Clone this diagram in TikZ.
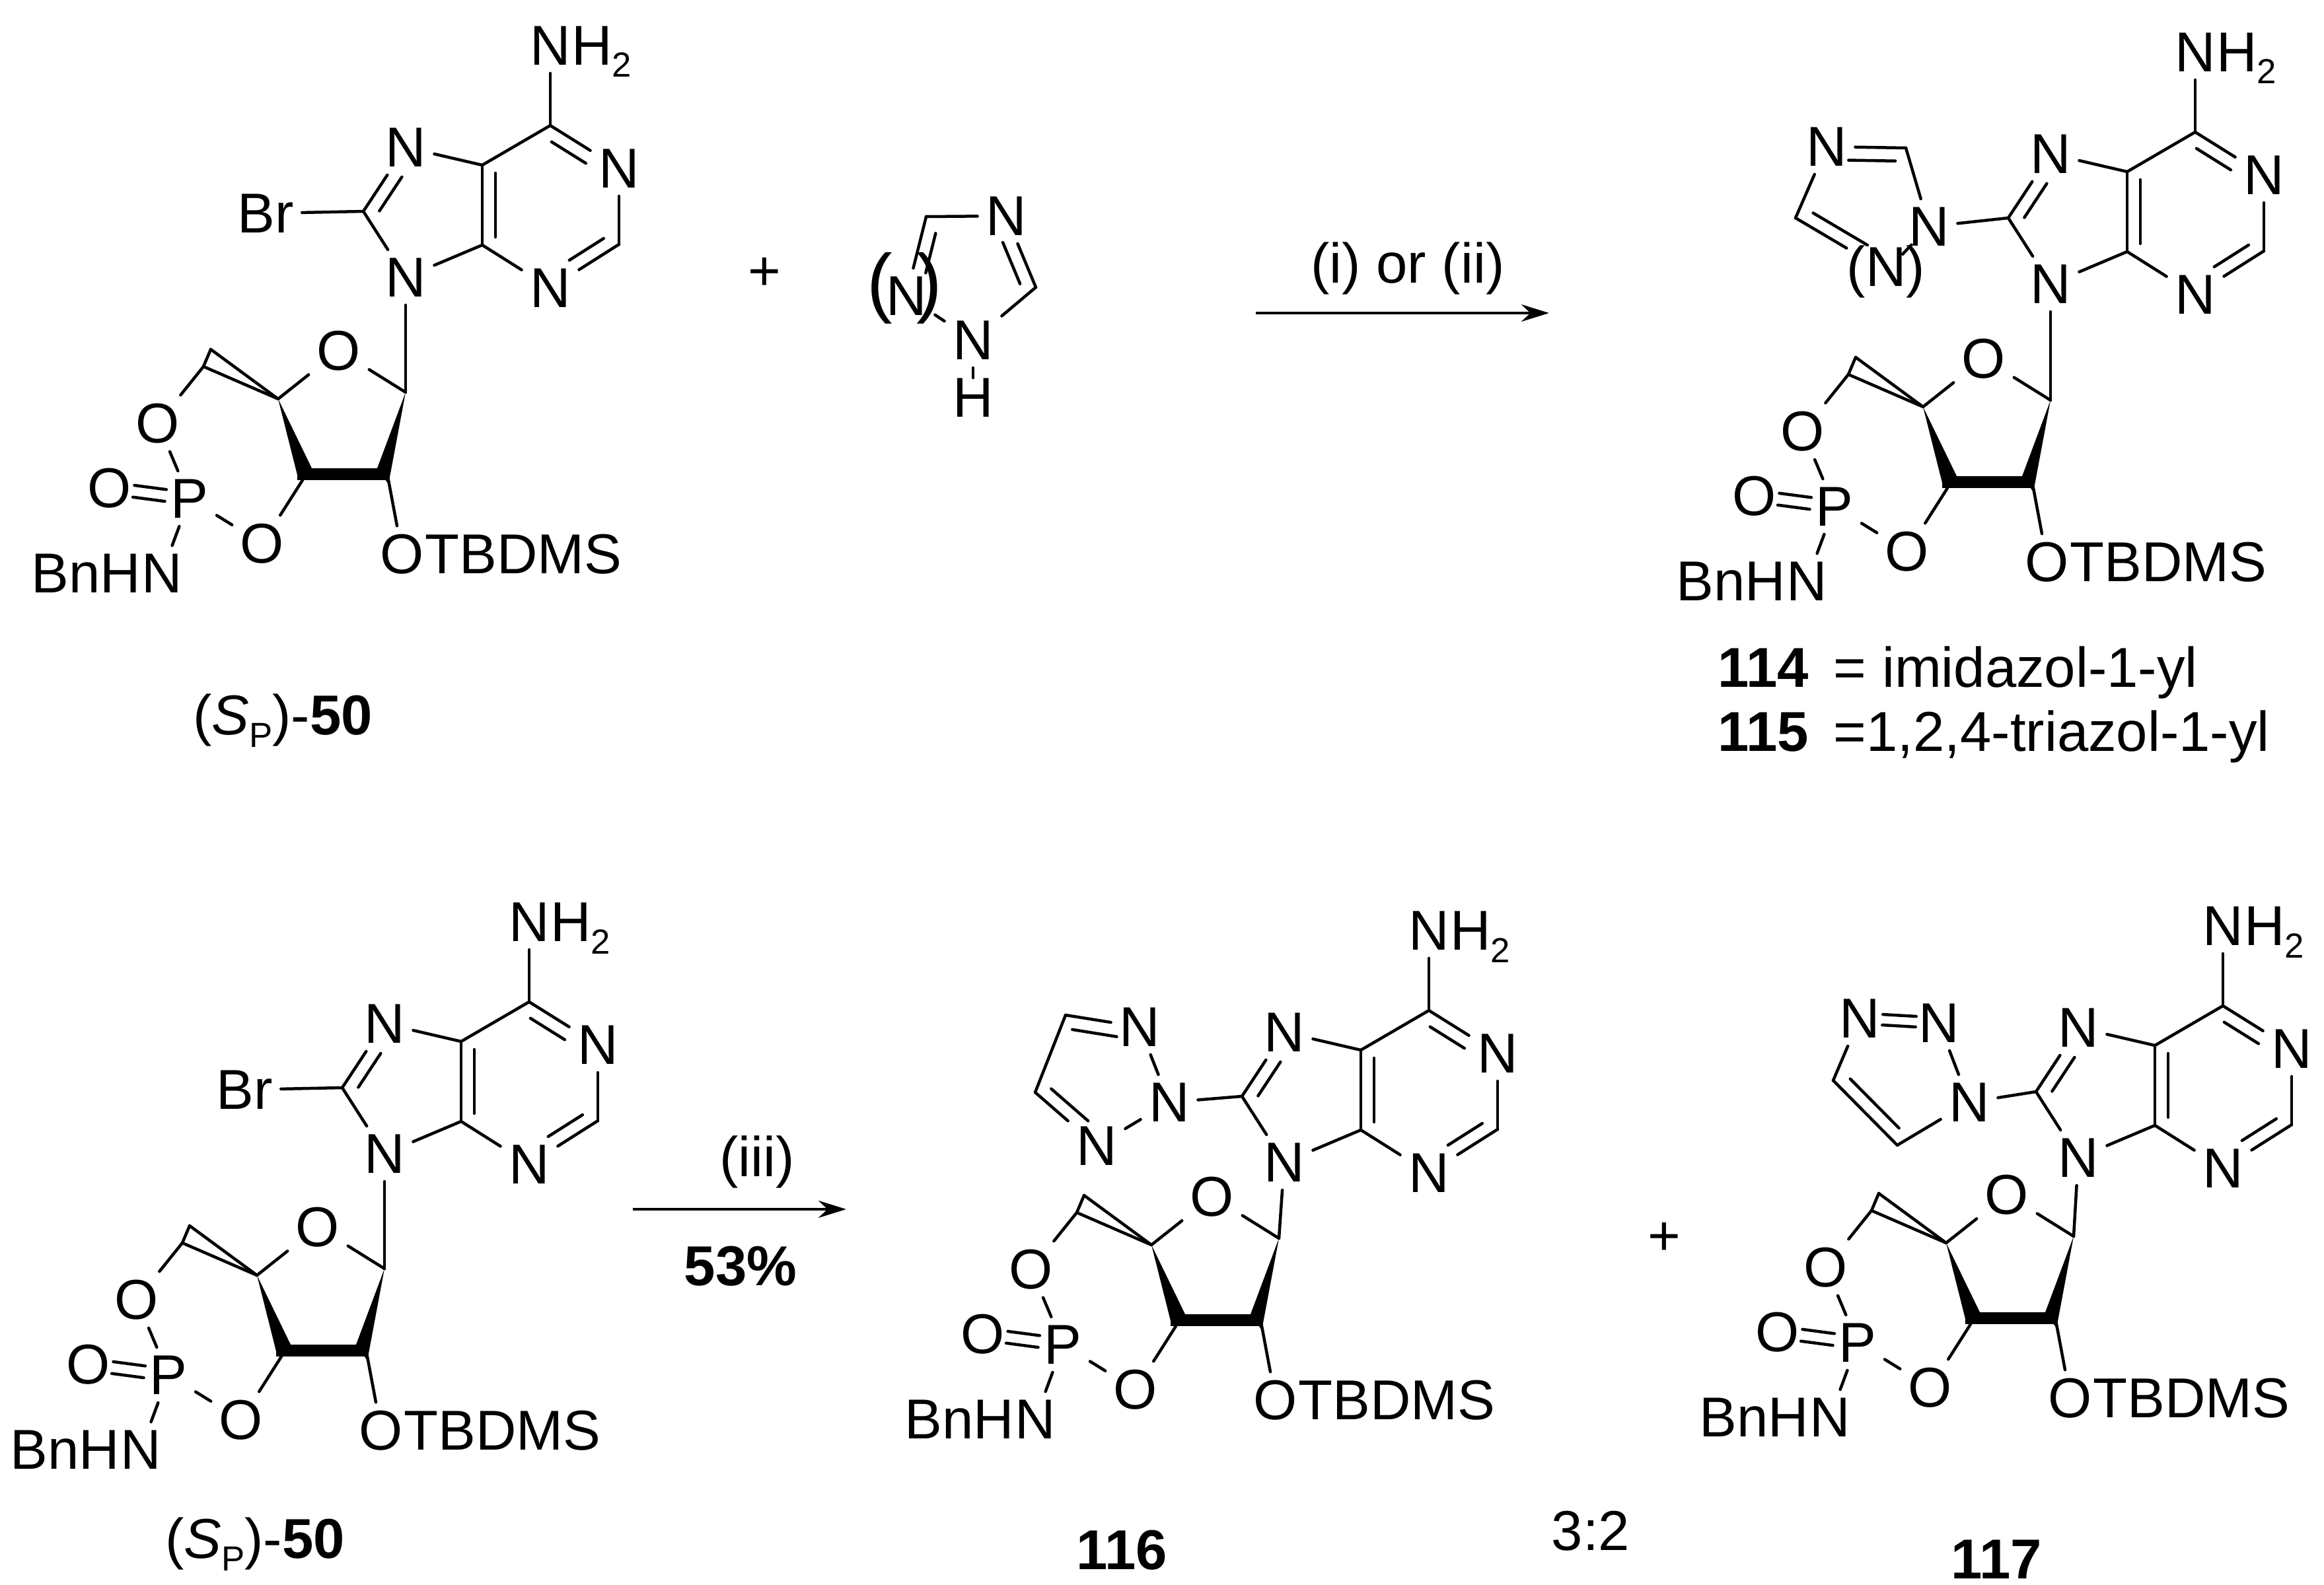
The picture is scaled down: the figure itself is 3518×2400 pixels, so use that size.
\documentclass[tikz,border=0pt]{standalone}
\usepackage{fontspec}
\setmainfont{Liberation Sans}
\usetikzlibrary{positioning}
\usetikzlibrary{arrows.meta}
\usetikzlibrary{calc}
\newcommand{\chemfont}{\fontsize{24.2}{29}\selectfont}
\newcommand{\parfont}{\fontsize{33}{33}\selectfont}
\newcommand{\subs}[1]{\raisebox{-.22em}{\fontsize{15}{15}\selectfont #1}}
\tikzstyle{atom}=[inner sep=.12cm,font=\chemfont]
\tikzstyle{chain}=[inner sep=0pt,font=\chemfont]
\tikzstyle{paren}=[inner sep=0pt,font=\parfont]
\tikzstyle{bond}=[draw,line width=.045cm,line cap=round]
\tikzstyle{thickbond}=[draw,line width=.18cm]
\tikzstyle{rxn}=[draw,line width=.04cm,-{Stealth[length=.42cm,width=.26cm]}]

% inner line of a double bond: a, b, from, to, side
\newcommand{\dbl}[6][.2cm]{\path[bond] ($(#2)!#4!(#3)!#1!#6:(#3)$) -- ($(#2)!#5!(#3)!#1!#6:(#3)$);}

% prefix, shift of the purine, shift of the sugar
\newcommand{\purine}[3]{
  \begin{scope}[shift={#2}]
   \foreach \x/\y/\name in {833/69/na, 937/255/n1, 833/436/n3, 614/223/n7, 614/420/n9}
          \node[atom] (#1\name) at (\x,\y) {N};
   \foreach \x/\y/\name in {833/190/c6, 937/370/c2, 730/371/c4, 730/250/c5, 550/320/c8}
          \coordinate (#1\name) at (\x,\y);
   \node[chain,base right=-.12cm of #1na] (#1h2) {H\subs{2}};
  \end{scope}
  \begin{scope}[shift={#3}]
   \foreach \x/\y/\name/\label in {513/531/o4/O, 609/839/o2/O, 397/823/o3/O, 287/755/p/P, 166/739/oa/O, 239/641/o5/O, 245/868/nb/N}
          \node[atom] (#1\name) at (\x,\y) {\label};
   \foreach \x/\y/\name in {614/594/ca, 421/604/cd, 458/727/cc, 588/727/cb, 319/529/ce, 308/555/cf, 452/727/wa, 472/709/wb, 571/709/wc, 588/733/wd, 450/718/ta, 590/718/tb}
          \coordinate (#1\name) at (\x,\y);
   \node[chain,base right=-.12cm of #1o2] (#1tbd) {TBDMS};
   \node[chain,base left=-.12cm of #1nb] (#1bn) {BnH};
  \end{scope}
  \foreach \source/\dest in {na/c6, c6/n1, n1/c2, c2/n3, n3/c4, c4/c5, c5/c6, c5/n7, n7/c8, c8/n9, n9/c4, n9/ca, ca/o4, o4/cd, cd/ce, cd/cf, ce/cf, cf/o5, o5/p, p/o3, o3/cc, p/nb, cb/o2}
         \path[bond] (#1\source) -- (#1\dest);
  \fill (#1cd) -- (#1wa) -- (#1wb) -- cycle;
  \fill (#1ca) -- (#1wc) -- (#1wd) -- cycle;
  \path[thickbond] (#1ta) -- (#1tb);
  \path[bond] ($(#1p)!.3!(#1oa)!.09cm!90:(#1oa)$) -- ($(#1p)!.7!(#1oa)!.09cm!90:(#1oa)$);
  \path[bond] ($(#1p)!.3!(#1oa)!.09cm!-90:(#1oa)$) -- ($(#1p)!.7!(#1oa)!.09cm!-90:(#1oa)$);
  \dbl{#1c4}{#1c5}{.1}{.9}{-90}
  \dbl{#1c6}{#1n1}{.12}{.62}{-90}
  \dbl{#1c2}{#1n3}{.12}{.62}{-90}
  \dbl{#1c8}{#1n7}{.12}{.65}{-90}
}

\begin{document}
\begin{tikzpicture}[x=.01cm,y=-.01cm]
  \useasboundingbox (0,0) rectangle (3518,2400);

  % starting materials and products
  \purine{s}{(0,0)}{(0,0)}
  \purine{t}{(2490,10)}{(2490,12)}
  \purine{u}{(-32,1327)}{(-32,1327)}
  \purine{v}{(1330,1340)}{(1322,1281)}
  \purine{w}{(2532,1333)}{(2525,1278)}

  \node[atom] (sbr) at (402,323) {Br};
  \node[atom] (ubr) at (370,1650) {Br};
  \path[bond] (sc8) -- (sbr);
  \path[bond] (uc8) -- (ubr);

  % free azole
  \foreach \x/\y/\name in {1523/327/fna, 1372/448/fnb, 1473/515/fnc}
          \node[atom] (\name) at (\x,\y) {N};
  \node[chain,below=.15cm of fnc] (fh) {H};
  \node[paren] (fpl) at (1332,436) {(};
  \node[paren] (fpr) at (1407,436) {)};
  \coordinate (fca) at (1402,328);
  \coordinate (fcb) at (1568,435);
  \foreach \source/\dest in {fca/fna, fna/fcb, fcb/fnc, fnc/fnb, fca/fnb, fnc/fh}
         \path[bond] (\source) -- (\dest);
  \dbl{fcb}{fna}{.12}{.7}{90}
  \dbl{fca}{fnb}{.17}{.67}{90}

  % azole on 114/115
  \foreach \x/\y/\name in {2765/222/azta, 2920/343/aztb}
          \node[atom] (\name) at (\x,\y) {N};
  \node[chain] (aztc) at (2855,411) {(N)};
  \coordinate (aztd) at (2885,224);
  \coordinate (azte) at (2718,330);
  \foreach \source/\dest in {aztd/azta, azta/azte, azte/aztc, aztc/aztb, aztb/aztd, aztb/tc8}
         \path[bond] (\source) -- (\dest);
  \dbl{aztd}{azta}{.13}{.72}{90}
  \dbl{azte}{aztc}{.12}{.72}{90}

  % azole on 116
  \foreach \x/\y/\name in {1725/1555/azva, 1770/1669/azvb, 1660/1735/azvc}
          \node[atom] (\name) at (\x,\y) {N};
  \coordinate (azvd) at (1613,1537);
  \coordinate (azve) at (1567,1654);
  \foreach \source/\dest in {azvd/azva, azva/azvb, azvb/azvc, azvc/azve, azve/azvd, azvb/vc8}
         \path[bond] (\source) -- (\dest);
  \dbl{azvd}{azva}{.12}{.72}{-90}
  \dbl{azve}{azvc}{.12}{.72}{90}

  % azole on 117
  \foreach \x/\y/\name in {2815/1542/azwa, 2935/1549/azwb, 2981/1669/azwc}
          \node[atom] (\name) at (\x,\y) {N};
  \coordinate (azwd) at (2775,1636);
  \coordinate (azwe) at (2872,1734);
  \foreach \source/\dest in {azwb/azwc, azwc/azwe, azwe/azwd, azwd/azwa, azwc/wc8}
         \path[bond] (\source) -- (\dest);
  \dbl[.08cm]{azwa}{azwb}{.29}{.71}{90}
  \dbl[.08cm]{azwa}{azwb}{.29}{.71}{-90}
  \dbl{azwd}{azwe}{.12}{.88}{90}

  % arrows
  \coordinate (ra) at (1901,474);
  \coordinate (rb) at (2345,474);
  \coordinate (rc) at (958,1831);
  \coordinate (rd) at (1281,1831);
  \path[rxn] (ra) -- (rb);
  \path[rxn] (rc) -- (rd);

  \node[chain] (ltop) at (2131,406) {(i) or (ii)};
  \node[chain] (lbot) at (1146,1759) {(iii)};
  \node[chain] (lyield) at (1121,1917) {\textbf{53\%}};
  \node[chain] (plusa) at (1157,415) {+};
  \node[chain] (plusb) at (2519,1876) {+};
  \node[chain] (ratio) at (2408,2318) {3:2};

  \node[chain] (la) at (428,1091) {(\textit{S}\subs{P})-\textbf{50}};
  \node[chain] (lb) at (386,2338) {(\textit{S}\subs{P})-\textbf{50}};
  \node[chain,anchor=base west] (lc) at (2600,1040) {\textbf{114} \,= imidazol-1-yl};
  \node[chain,anchor=base west] (ld) at (2600,1137) {\textbf{115} \,=1,2,4-triazol-1-yl};
  \node[chain] (le) at (1698,2347) {\textbf{116}};
  \node[chain] (lf) at (3022,2361) {\textbf{117}};
\end{tikzpicture}
\end{document}
